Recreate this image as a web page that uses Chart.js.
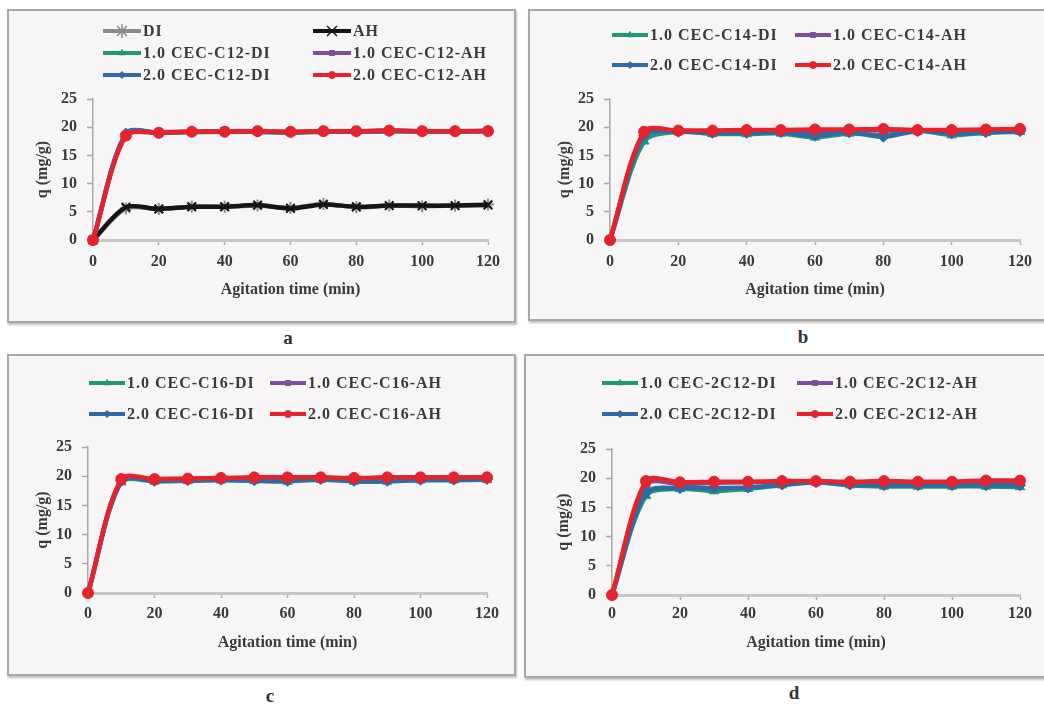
<!DOCTYPE html>
<html>
<head>
<meta charset="utf-8">
<script src="https://cdn.jsdelivr.net/npm/chart.js@4/dist/chart.umd.min.js"></script>
<style>
  html, body { margin: 0; padding: 0; background: #ffffff; overflow: hidden; }
  body { width: 1044px; height: 704px; position: relative; }
  .panel {
    position: absolute; box-sizing: border-box;
    background: #f7f5f5; border: 2px solid #a9a7a7;
    box-shadow: 1px 2px 2px rgba(0,0,0,0.25);
  }
  .panel canvas { position: absolute; left: 0; top: 0; }
  .tag {
    position: absolute; font: bold 19px "Liberation Serif", "DejaVu Serif", serif;
    color: #333; transform: translate(-50%, -50%);
  }
</style>
</head>
<body>
<div class="panel" id="pa"><canvas id="ca"></canvas></div>
<div class="panel" id="pb"><canvas id="cb"></canvas></div>
<div class="panel" id="pc"><canvas id="cc"></canvas></div>
<div class="panel" id="pd"><canvas id="cd"></canvas></div>
<div class="tag" style="left:288px;top:338px">a</div>
<div class="tag" style="left:803px;top:337px">b</div>
<div class="tag" style="left:270px;top:696px">c</div>
<div class="tag" style="left:794px;top:693px">d</div>
<script>
// Agitation time (min)
const time = [0, 10, 20, 30, 40, 50, 60, 70, 80, 90, 100, 110, 120];
const xTicks = [0, 20, 40, 60, 80, 100, 120];
const yTicks = [0, 5, 10, 15, 20, 25];

// (a) unmodified and C12-modified clay
const aLabels = ['DI', 'AH', '1.0 CEC-C12-DI', '1.0 CEC-C12-AH', '2.0 CEC-C12-DI', '2.0 CEC-C12-AH'];
const aDI      = [0, 5.6, 5.5, 5.9, 5.9, 6.1, 5.7, 6.4, 5.8, 6.1, 6.0, 6.1, 6.3];
const aAH      = [0, 5.8, 5.5, 5.9, 5.9, 6.2, 5.6, 6.3, 5.9, 6.1, 6.1, 6.1, 6.2];
const aC12DI1  = [0, 18.8, 19.0, 19.1, 19.2, 19.2, 19.0, 19.2, 19.2, 19.3, 19.2, 19.2, 19.3];
const aC12AH1  = [0, 18.6, 19.1, 19.2, 19.3, 19.3, 19.2, 19.3, 19.3, 19.4, 19.3, 19.3, 19.4];
const aC12DI2  = [0, 18.9, 19.0, 19.2, 19.2, 19.2, 19.1, 19.3, 19.2, 19.3, 19.3, 19.3, 19.3];
const aC12AH2  = [0, 18.5, 19.0, 19.2, 19.2, 19.3, 19.2, 19.3, 19.3, 19.4, 19.3, 19.3, 19.3];

// (b) C14-modified clay
const bLabels = ['1.0 CEC-C14-DI', '1.0 CEC-C14-AH', '2.0 CEC-C14-DI', '2.0 CEC-C14-AH'];
const bDI1 = [0, 17.5, 19.2, 18.8, 18.8, 18.9, 18.2, 18.9, 18.6, 19.4, 18.6, 19.0, 19.2];
const bAH1 = [0, 19.0, 19.3, 19.2, 19.3, 19.3, 19.3, 19.3, 19.5, 19.4, 19.3, 19.4, 19.5];
const bDI2 = [0, 18.5, 19.2, 19.0, 19.0, 19.1, 18.5, 19.1, 18.3, 19.3, 18.9, 19.1, 19.3];
const bAH2 = [0, 19.2, 19.4, 19.4, 19.5, 19.5, 19.6, 19.6, 19.7, 19.5, 19.5, 19.6, 19.7];

// (c) C16-modified clay
const cLabels = ['1.0 CEC-C16-DI', '1.0 CEC-C16-AH', '2.0 CEC-C16-DI', '2.0 CEC-C16-AH'];
const cDI1 = [0, 19.0, 19.1, 19.2, 19.3, 19.2, 19.1, 19.4, 19.1, 19.1, 19.3, 19.3, 19.4];
const cAH1 = [0, 19.3, 19.4, 19.5, 19.6, 19.7, 19.7, 19.7, 19.6, 19.7, 19.7, 19.7, 19.7];
const cDI2 = [0, 19.2, 19.2, 19.3, 19.4, 19.3, 19.2, 19.5, 19.2, 19.2, 19.4, 19.4, 19.5];
const cAH2 = [0, 19.5, 19.5, 19.6, 19.7, 19.8, 19.8, 19.8, 19.7, 19.8, 19.8, 19.8, 19.8];

// (d) 2C12-modified clay
const dLabels = ['1.0 CEC-2C12-DI', '1.0 CEC-2C12-AH', '2.0 CEC-2C12-DI', '2.0 CEC-2C12-AH'];
const dDI1 = [0, 17.0, 18.2, 17.8, 18.2, 18.8, 19.3, 18.8, 18.6, 18.6, 18.6, 18.6, 18.5];
const dAH1 = [0, 19.0, 19.0, 19.2, 19.3, 19.4, 19.4, 19.3, 19.4, 19.3, 19.3, 19.5, 19.4];
const dDI2 = [0, 17.5, 18.3, 18.3, 18.4, 18.9, 19.3, 18.9, 18.8, 18.8, 18.8, 18.8, 18.8];
const dAH2 = [0, 19.5, 19.3, 19.4, 19.4, 19.5, 19.5, 19.4, 19.5, 19.4, 19.4, 19.6, 19.6];

const xTitle = 'Agitation time (min)';
const yTitle = 'q (mg/g)';

// series looks: colour, marker, stacking (lower order is drawn on top)
const LOOK = {
  DI:   { color: '#8a8a8a', point: 'star',     order: 7 },
  AH:   { color: '#151515', point: 'crossRot', order: 6 },
  DI1:  { color: '#1f9877', point: 'triangle', order: 4 },
  AH1:  { color: '#7d4e9c', point: 'rect',     order: 3 },
  DI2:  { color: '#2e6aa6', point: 'rectRot',  order: 2 },
  AH2:  { color: '#e8222a', point: 'circle',   order: 1 }
};

const SERIF = '"Liberation Serif", "Times New Roman", serif';
const TEXT = '#3a3a3a';
const AXIS = '#a8a8a8';

function isCrossStyle(style) {
  return style === 'star' || style === 'crossRot';
}

function series(label, values, look) {
  const cross = isCrossStyle(look.point);
  return {
    label,
    data: time.map((t, i) => ({ x: t, y: values[i] })),
    borderColor: look.color,
    backgroundColor: look.color,
    pointBackgroundColor: look.color,
    pointBorderColor: look.color,
    pointStyle: look.point,
    pointRadius: cross ? 6 : 5.5,
    pointBorderWidth: cross ? 2 : 1,
    borderWidth: 4.5,
    tension: 0.3,
    order: look.order,
    clip: false
  };
}

// two-column legend drawn above the plot
const gridLegend = {
  id: 'gridLegend',
  afterDraw(chart, args, opts) {
    const ctx = chart.ctx;
    ctx.save();
    ctx.font = 'bold 16px ' + SERIF;
    ctx.textBaseline = 'middle';
    ctx.textAlign = 'left';
    if ('letterSpacing' in ctx) ctx.letterSpacing = '1px';
    chart.data.datasets.forEach((ds, i) => {
      const row = Math.floor(i / 2), col = i % 2;
      const y = opts.rows[row];
      const x0 = opts.cols[col], x1 = x0 + opts.lineLen;
      ctx.strokeStyle = ds.borderColor;
      ctx.lineWidth = 4;
      ctx.beginPath(); ctx.moveTo(x0, y); ctx.lineTo(x1, y); ctx.stroke();
      const cross = isCrossStyle(ds.pointStyle);
      ctx.fillStyle = ds.pointBackgroundColor;
      ctx.strokeStyle = ds.pointBorderColor;
      ctx.lineWidth = cross ? 1.5 : ds.pointBorderWidth;
      Chart.helpers.drawPoint(ctx, {
        pointStyle: ds.pointStyle, radius: cross ? 7 : ds.pointRadius - 2, rotation: 0,
        borderWidth: ctx.lineWidth
      }, (x0 + x1) / 2, y);
      ctx.fillStyle = TEXT;
      ctx.fillText(ds.label, x1 + 2, y + 1);
    });
    ctx.restore();
  }
};

function makePanel(canvasId, panelId, box, area, titles, legend, datasets) {
  const bw = 2;
  const panel = document.getElementById(panelId);
  Object.assign(panel.style, { left: box.x + 'px', top: box.y + 'px', width: box.w + 'px', height: box.h + 'px' });
  const ox = box.x + bw, oy = box.y + bw;
  const cw = box.w - 2 * bw, ch = box.h - 2 * bw;
  const canvas = document.getElementById(canvasId);
  canvas.style.width = cw + 'px'; canvas.style.height = ch + 'px';
  canvas.width = cw; canvas.height = ch;

  const titleHalf = 16 * 1.2 / 2 + 4;
  const YW = area.l - (titles.yTitleX - titleHalf);
  const XH = (titles.xTitleY + titleHalf) - area.b;
  const tickPad = Math.round(titles.xTickY - area.b - 6 - 9.6);

  return new Chart(canvas, {
    type: 'line',
    data: { datasets },
    plugins: [gridLegend],
    options: {
      responsive: false,
      animation: false,
      layout: {
        padding: {
          left: area.l - ox - YW,
          top: area.t - oy,
          right: ox + cw - area.r,
          bottom: oy + ch - area.b - XH
        }
      },
      plugins: {
        legend: { display: false },
        tooltip: { enabled: false },
        gridLegend: {
          rows: legend.rows.map(y => y - oy),
          cols: legend.cols.map(x => x - ox),
          lineLen: legend.lineLen
        }
      },
      scales: {
        x: {
          type: 'linear', min: 0, max: 120,
          afterFit(s) { s.height = XH; },
          afterBuildTicks(s) { s.ticks = xTicks.map(v => ({ value: v })); },
          border: { color: '#c9c7c7', width: 3 },
          grid: { drawOnChartArea: false, tickLength: 5, color: '#b0b0b0', tickWidth: 1.5 },
          ticks: { padding: tickPad, color: TEXT, font: { family: SERIF, size: 16, weight: 'bold' } },
          title: { display: true, text: xTitle, color: TEXT, padding: 4,
                   font: { family: SERIF, size: 16, weight: 'bold' } }
        },
        y: {
          type: 'linear', min: 0, max: 25,
          afterFit(s) { s.width = YW; },
          afterBuildTicks(s) { s.ticks = yTicks.map(v => ({ value: v })); },
          border: { color: AXIS, width: 1.5 },
          grid: { drawOnChartArea: false, tickLength: 6, color: AXIS, tickWidth: 1.5 },
          ticks: { padding: 10, color: TEXT, font: { family: SERIF, size: 16, weight: 'bold' } },
          title: { display: true, text: yTitle, color: TEXT, padding: 4,
                   font: { family: SERIF, size: 16, weight: 'bold' } }
        }
      }
    }
  });
}

makePanel('ca', 'pa',
  { x: 7, y: 9, w: 509, h: 314 },
  { l: 93, r: 488, t: 99, b: 240 },
  { yTitleX: 43, xTitleY: 290, xTickY: 263 },
  { rows: [31, 53, 75], cols: [103, 313], lineLen: 38 },
  [
    series(aLabels[0], aDI, LOOK.DI),
    series(aLabels[1], aAH, LOOK.AH),
    series(aLabels[2], aC12DI1, LOOK.DI1),
    series(aLabels[3], aC12AH1, LOOK.AH1),
    series(aLabels[4], aC12DI2, LOOK.DI2),
    series(aLabels[5], aC12AH2, LOOK.AH2)
  ]);

makePanel('cb', 'pb',
  { x: 528, y: 9, w: 522, h: 312 },
  { l: 610, r: 1020, t: 99, b: 240 },
  { yTitleX: 565, xTitleY: 290, xTickY: 263 },
  { rows: [35, 65], cols: [612, 795], lineLen: 36 },
  [
    series(bLabels[0], bDI1, LOOK.DI1),
    series(bLabels[1], bAH1, LOOK.AH1),
    series(bLabels[2], bDI2, LOOK.DI2),
    series(bLabels[3], bAH2, LOOK.AH2)
  ]);

makePanel('cc', 'pc',
  { x: 7, y: 354, w: 509, h: 322 },
  { l: 88, r: 487, t: 447, b: 593 },
  { yTitleX: 43, xTitleY: 643, xTickY: 615 },
  { rows: [383, 414], cols: [89, 270], lineLen: 36 },
  [
    series(cLabels[0], cDI1, LOOK.DI1),
    series(cLabels[1], cAH1, LOOK.AH1),
    series(cLabels[2], cDI2, LOOK.DI2),
    series(cLabels[3], cAH2, LOOK.AH2)
  ]);

makePanel('cd', 'pd',
  { x: 524, y: 354, w: 526, h: 324 },
  { l: 612, r: 1020, t: 449, b: 595 },
  { yTitleX: 564, xTitleY: 643, xTickY: 615 },
  { rows: [383, 414], cols: [602, 797], lineLen: 36 },
  [
    series(dLabels[0], dDI1, LOOK.DI1),
    series(dLabels[1], dAH1, LOOK.AH1),
    series(dLabels[2], dDI2, LOOK.DI2),
    series(dLabels[3], dAH2, LOOK.AH2)
  ]);
</script>
</body>
</html>
